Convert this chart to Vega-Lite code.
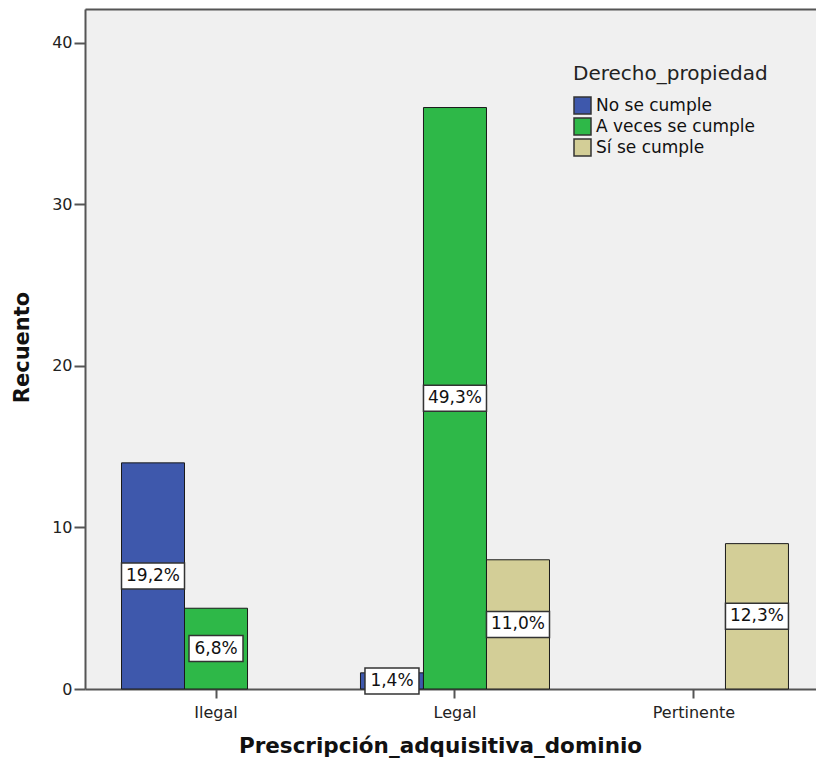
{
  "$schema": "https://vega.github.io/schema/vega-lite/v6.json",
  "width": 731,
  "height": 680,
  "autosize": "none",
  "padding": {"left": 85, "top": 9, "right": 0, "bottom": 71},
  "background": "white",
  "config": {
    "view": {"fill": "#F0F0F0", "stroke": null},
    "font": "DejaVu Sans"
  },
  "data": {
    "values": [
      {"prescripcion": "Ilegal", "derecho": "No se cumple", "recuento": 14, "porcentaje": "19,2%"},
      {"prescripcion": "Ilegal", "derecho": "A veces se cumple", "recuento": 5, "porcentaje": "6,8%"},
      {"prescripcion": "Legal", "derecho": "No se cumple", "recuento": 1, "porcentaje": "1,4%"},
      {"prescripcion": "Legal", "derecho": "A veces se cumple", "recuento": 36, "porcentaje": "49,3%"},
      {"prescripcion": "Legal", "derecho": "Sí se cumple", "recuento": 8, "porcentaje": "11,0%"},
      {"prescripcion": "Pertinente", "derecho": "Sí se cumple", "recuento": 9, "porcentaje": "12,3%"}
    ]
  },
  "encoding": {
    "x": {
      "field": "prescripcion",
      "type": "nominal",
      "sort": ["Ilegal", "Legal", "Pertinente"],
      "scale": {"paddingInner": 0.209, "paddingOuter": 0.134, "align": 0.57},
      "axis": {
        "title": "Prescripción_adquisitiva_dominio",
        "titleFontSize": 21.5,
        "titleFontWeight": "bold",
        "titleColor": "#111",
        "titleX": 355,
        "titleY": 57,
        "titleBaseline": "middle",
        "labelAngle": 0,
        "labelFontSize": 16,
        "labelColor": "#222",
        "labelPadding": 6,
        "tickSize": 9,
        "tickWidth": 2,
        "tickColor": "#555",
        "domainColor": "#555",
        "domainWidth": 2
      }
    },
    "xOffset": {
      "field": "derecho",
      "type": "nominal",
      "sort": ["No se cumple", "A veces se cumple", "Sí se cumple"],
      "scale": {"paddingInner": 0, "paddingOuter": 0}
    }
  },
  "layer": [
    {
      "mark": {"type": "bar", "stroke": "#1a1a1a", "strokeWidth": 1},
      "encoding": {
        "y": {
          "field": "recuento",
          "type": "quantitative",
          "scale": {"domain": [0, 42.1], "nice": false},
          "axis": {
            "values": [0, 10, 20, 30, 40],
            "grid": false,
            "title": "Recuento",
            "titleFontSize": 21,
            "titleFontWeight": "bold",
            "titleColor": "#111",
            "titleX": -63,
            "titleY": 338,
            "titleBaseline": "middle",
            "labelFontSize": 16,
            "labelColor": "#222",
            "labelPadding": 2,
            "tickSize": 11,
            "tickWidth": 2,
            "tickColor": "#555",
            "domainColor": "#555",
            "domainWidth": 2
          }
        },
        "color": {
          "field": "derecho",
          "type": "nominal",
          "scale": {
            "domain": ["No se cumple", "A veces se cumple", "Sí se cumple"],
            "range": ["#3E58AC", "#2EB848", "#D3CE97"]
          },
          "legend": {
            "orient": "none",
            "legendX": 488,
            "legendY": 55,
            "title": "Derecho_propiedad",
            "titleLimit": 400,
            "titleFontSize": 20,
            "titleFontWeight": "normal",
            "titleColor": "#222",
            "titlePadding": 12,
            "labelFontSize": 17,
            "labelLimit": 400,
            "labelColor": "#111",
            "labelOffset": 4,
            "symbolType": "square",
            "symbolSize": 289,
            "symbolStrokeColor": "#333",
            "symbolStrokeWidth": 1.5,
            "rowPadding": -2
          }
        }
      }
    },
    {
      "encoding": {
        "x": {
          "field": "prescripcion",
          "type": "nominal",
          "sort": ["Ilegal", "Legal", "Pertinente"],
          "axis": {
            "orient": "top",
            "labels": false,
            "ticks": false,
            "title": null,
            "domainColor": "#555",
            "domainWidth": 2
          }
        },
        "y": {
          "field": "recuento",
          "type": "quantitative",
          "scale": {"domain": [0, 84.2], "nice": false},
          "axis": null
        }
      },
      "layer": [
        {
          "mark": {"type": "point", "filled": true, "fill": "white", "stroke": "#333", "strokeWidth": 1.5, "opacity": 1},
          "encoding": {
            "shape": {
              "condition": {"test": "length(datum.porcentaje) > 4", "value": "M-1,-0.4127H1V0.4127H-1Z"},
              "value": "M-1,-0.4815H1V0.4815H-1Z"
            },
            "size": {
              "condition": {"test": "length(datum.porcentaje) > 4", "value": 3969},
              "value": 2916
            }
          }
        },
        {
          "mark": {"type": "text", "fontSize": 17, "color": "#111", "baseline": "middle", "align": "center"},
          "encoding": {
            "text": {"field": "porcentaje", "type": "nominal"}
          }
        }
      ]
    }
  ],
  "resolve": {"scale": {"y": "independent"}, "axis": {"x": "independent"}}
}
